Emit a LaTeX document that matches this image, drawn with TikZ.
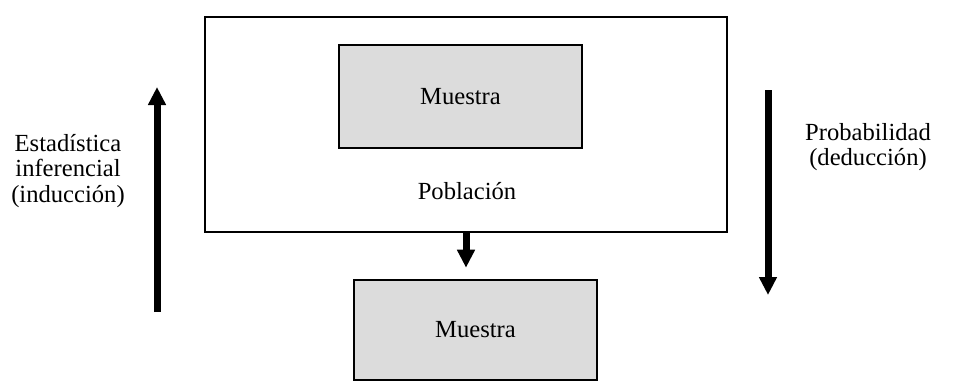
\documentclass[tikz,border=0pt]{standalone}
\usepackage{fontspec}
\setmainfont{Liberation Serif}
\usetikzlibrary{positioning, arrows.meta}
\definecolor{StippleGray}{HTML}{DCDCDC}

\begin{document}
\begin{tikzpicture}[x=0.5pt, y=-0.5pt,
    every node/.style={font=\fontsize{12.3}{12.8}\selectfont},
    caja/.style={draw, line width=0.7pt, rectangle, inner sep=0pt},
    muestra/.style={caja, line width=1.3pt, fill=StippleGray,
        minimum width=121.5pt},
    flecha/.style={line width=3.5pt, -{Triangle[width=8.5pt, length=9pt]}}]
    \useasboundingbox (0,0) rectangle (975,382);
    % poblacion con su muestra
    \node[caja, minimum width=261pt, minimum height=107.5pt] (poblacion) at (466,124.5) {};
    \node[muestra, minimum height=51.5pt] (muestraA) at (460.5,96.5) {Muestra};
    \node (pobtxt) at (467,191) {Población};
    % muestra extraida
    \node[muestra, minimum height=50pt] (muestraB) at (475.5,330) {Muestra};
    \draw[flecha, shorten >=5.5pt] (poblacion.south) -- (poblacion.south |- muestraB.north);
    % induccion y deduccion
    \coordinate (indA) at (157,312);
    \coordinate (indB) at (157,87);
    \coordinate (dedA) at (768,90);
    \coordinate (dedB) at (768,295);
    \draw[flecha] (indA) -- (indB);
    \draw[flecha] (dedA) -- (dedB);
    \node[align=center] (induccion) at (68,171) {Estadística\\inferencial\\(inducción)};
    \node[align=center] (deduccion) at (868,147) {Probabilidad\\(deducción)};
\end{tikzpicture}
\end{document}
